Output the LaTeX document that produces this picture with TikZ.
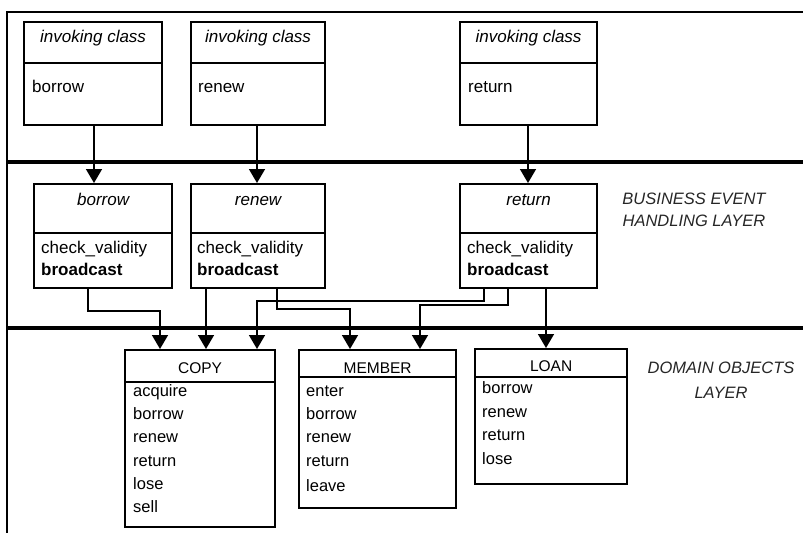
\documentclass[tikz,border=0pt]{standalone}
\usepackage{fontspec}
\setmainfont{Liberation Sans}
\usetikzlibrary{arrows.meta}

\tikzset{
  box/.style={draw, line width=2.2pt, inner sep=0pt, anchor=north west},
  divider/.style={line width=2pt},
  conn/.style={line width=1.6pt, -{Triangle[length=14pt,width=16pt]}},
  frame/.style={line width=1.6pt},
  sepline/.style={line width=3.2pt},
  txt/.style={inner sep=0pt, font=\fontsize{17}{20}\selectfont},
  itxt/.style={txt, font=\fontsize{17}{20}\selectfont\itshape, anchor=base},
  item/.style={txt, anchor=base west},
  bitem/.style={item, font=\fontsize{17}{20}\selectfont\bfseries},
  ditem/.style={inner sep=0pt, anchor=base west, font=\fontsize{16.5}{20}\selectfont},
  dhead/.style={inner sep=0pt, anchor=base, font=\fontsize{15.5}{20}\selectfont},
  layer/.style={inner sep=0pt, anchor=base, text=black!85,
                font=\fontsize{16.5}{20}\selectfont\itshape},
}

\begin{document}
\begin{tikzpicture}[x=1pt, y=-1pt]
\useasboundingbox (0,0) rectangle (803,533);

% layer frame and separators
\draw[frame] (803,12) -- (7,12) -- (7,533);
\draw[sepline] (7,162) -- (803,162);
\draw[sepline] (7,328) -- (803,328);

% invoking classes
\node[box, minimum width=138pt, minimum height=103pt] (ic1) at (23,21) {};
\node[box, minimum width=134pt, minimum height=103pt] (ic2) at (190,21) {};
\node[box, minimum width=137pt, minimum height=103pt] (ic3) at (459,21) {};
\draw[divider] (ic1.west |- 0,63) -- (ic1.east |- 0,63);
\draw[divider] (ic2.west |- 0,63) -- (ic2.east |- 0,63);
\draw[divider] (ic3.west |- 0,63) -- (ic3.east |- 0,63);
\node[itxt] (ic1t) at (ic1.center |- 0,42) {invoking class};
\node[itxt] (ic2t) at (ic2.center |- 0,42) {invoking class};
\node[itxt] (ic3t) at (ic3.center |- 0,42) {invoking class};
\node[item] (ic1m) at (32,92) {borrow};
\node[item] (ic2m) at (198,92) {renew};
\node[item] (ic3m) at (468,92) {return};

% business event handlers
\node[box, minimum width=138pt, minimum height=104pt] (ev1) at (33,183) {};
\node[box, minimum width=134pt, minimum height=104pt] (ev2) at (190,183) {};
\node[box, minimum width=137pt, minimum height=104pt] (ev3) at (459,183) {};
\draw[divider] (ev1.west |- 0,233) -- (ev1.east |- 0,233);
\draw[divider] (ev2.west |- 0,233) -- (ev2.east |- 0,233);
\draw[divider] (ev3.west |- 0,233) -- (ev3.east |- 0,233);
\node[itxt] (ev1t) at (ev1.center |- 0,205) {borrow};
\node[itxt] (ev2t) at (ev2.center |- 0,205) {renew};
\node[itxt] (ev3t) at (ev3.center |- 0,205) {return};
\node[item] (ev1a) at (41,253) {check\_validity};
\node[item] (ev2a) at (197,253) {check\_validity};
\node[item] (ev3a) at (467,253) {check\_validity};
\node[bitem] (ev1b) at (41,275) {broadcast};
\node[bitem] (ev2b) at (197,275) {broadcast};
\node[bitem] (ev3b) at (467,275) {broadcast};

% domain objects
\node[box, minimum width=150pt, minimum height=177pt] (copy) at (124,349) {};
\node[box, minimum width=157pt, minimum height=158pt] (mem) at (298,349) {};
\node[box, minimum width=152pt, minimum height=135pt] (loan) at (474,348) {};
\draw[divider] (copy.west |- 0,382) -- (copy.east |- 0,382);
\draw[divider] (mem.west |- 0,377) -- (mem.east |- 0,377);
\draw[divider] (loan.west |- 0,377) -- (loan.east |- 0,377);
\node[dhead] (copyt) at (copy.center |- 0,373) {COPY};
\node[dhead] (memt) at (mem.center |- 0,373) {MEMBER};
\node[dhead] (loant) at (loan.center |- 0,371) {LOAN};

\node[ditem] (cp1) at (133,396) {acquire};
\node[ditem] (cp2) at (133,419) {borrow};
\node[ditem] (cp3) at (133,442) {renew};
\node[ditem] (cp4) at (133,466) {return};
\node[ditem] (cp5) at (133,489) {lose};
\node[ditem] (cp6) at (133,512) {sell};

\node[ditem] (mb1) at (306,396) {enter};
\node[ditem] (mb2) at (306,419) {borrow};
\node[ditem] (mb3) at (306,442) {renew};
\node[ditem] (mb4) at (306,466) {return};
\node[ditem] (mb5) at (306,491) {leave};

\node[ditem] (ln1) at (482,393) {borrow};
\node[ditem] (ln2) at (482,417) {renew};
\node[ditem] (ln3) at (482,440) {return};
\node[ditem] (ln4) at (482,464) {lose};

% layer labels
\node[layer] (lb1) at (694,204) {BUSINESS EVENT};
\node[layer] (lb2) at (694,226) {HANDLING LAYER};
\node[layer] (lb3) at (721,373) {DOMAIN OBJECTS};
\node[layer] (lb4) at (721,398) {LAYER};

% invocations
\draw[conn] ([xshift=71pt]ic1.south west) -- ([xshift=61pt]ev1.north west);
\draw[conn] (ic2.south -| 257,0) -- (ev2.north -| 257,0);
\draw[conn] (ic3.south -| 528,0) -- (ev3.north -| 528,0);

% broadcasts
\draw[conn] ([xshift=55pt]ev1.south west) -- ++(0,22) -| ([xshift=36pt]copy.north west);
\draw[conn] ([xshift=16pt]ev2.south west) -- ([xshift=82pt]copy.north west);
\draw[conn] ([xshift=87pt]ev2.south west) -- ++(0,20) -| ([xshift=52pt]mem.north west);
\draw[conn] ([xshift=25pt]ev3.south west) -- ++(0,12) -| ([xshift=133pt]copy.north west);
\draw[conn] ([xshift=49pt]ev3.south west) -- ++(0,16) -| ([xshift=122pt]mem.north west);
\draw[conn] ([xshift=87pt]ev3.south west) -- ([xshift=72pt]loan.north west);
\end{tikzpicture}
\end{document}
